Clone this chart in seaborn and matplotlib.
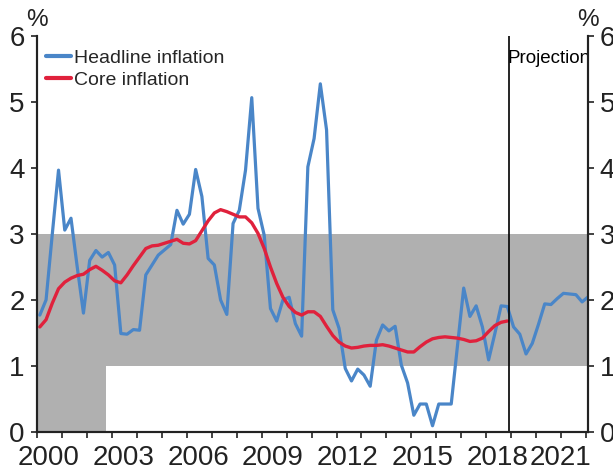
import matplotlib
matplotlib.use("Agg")
import numpy as np
import pandas as pd
import matplotlib.pyplot as plt
import matplotlib.transforms as mtransforms
import seaborn as sns

# ==========================================
# data (annual % change, quarterly from 2000 Q1)
# ==========================================
headline = [1.77, 2.00, 3.00, 3.97,
            3.06, 3.24, 2.50, 1.80,
            2.60, 2.75, 2.65, 2.72,
            2.53, 1.49, 1.48, 1.55,
            1.54, 2.38, 2.53, 2.68,
            2.76, 2.84, 3.36, 3.15,
            3.30, 3.98, 3.57, 2.63,
            2.53, 2.00, 1.78, 3.16,
            3.36, 3.97, 5.07, 3.39,
            2.98, 1.87, 1.68, 2.00,
            2.04, 1.64, 1.45, 4.02,
            4.45, 5.28, 4.58, 1.85,
            1.57, 0.96, 0.77, 0.95,
            0.86, 0.69, 1.39, 1.62,
            1.53, 1.60, 1.01, 0.74,
            0.25, 0.42, 0.42, 0.09,
            0.42, 0.42, 0.42, 1.30,
            2.18, 1.75, 1.91, 1.59,
            1.09, 1.49, 1.91, 1.90,
            1.59, 1.48, 1.18, 1.34,
            1.63, 1.94, 1.93, 2.02,
            2.10, 2.09, 2.08, 1.97,
            2.05]

core = [1.59, 1.70, 1.95, 2.17,
        2.27, 2.33, 2.37, 2.39,
        2.46, 2.51, 2.45, 2.38,
        2.29, 2.26, 2.38, 2.52,
        2.65, 2.78, 2.82, 2.83,
        2.86, 2.89, 2.92, 2.86,
        2.85, 2.90, 3.05, 3.20,
        3.32, 3.37, 3.34, 3.30,
        3.26, 3.26, 3.17, 3.01,
        2.78, 2.50, 2.25, 2.04,
        1.90, 1.81, 1.77, 1.82,
        1.82, 1.75, 1.60, 1.46,
        1.36, 1.30, 1.27, 1.28,
        1.30, 1.31, 1.31, 1.32,
        1.30, 1.27, 1.24, 1.21,
        1.21, 1.29, 1.36, 1.41,
        1.43, 1.44, 1.43, 1.42,
        1.40, 1.37, 1.38, 1.42,
        1.52, 1.61, 1.66, 1.68]

# target band: 0-3 until Sep 2002, then 1-3
band_x = [2000.0, 2002.75, 2002.75, 2022.1]
band_lo = [0, 0, 1, 1]
band_hi = [3, 3, 3, 3]

projection_start = 2018.92
year_labels = [2000, 2003, 2006, 2009, 2012, 2015, 2018, 2021]

# ==========================================
# frames
# ==========================================
df_h = pd.DataFrame({"date": 2000.1 + 0.25 * np.arange(len(headline)), "value": headline})
df_c = pd.DataFrame({"date": 2000.1 + 0.25 * np.arange(len(core)), "value": core})

sns.set_style("ticks")
plt.rcParams["font.family"] = ["Liberation Sans", "DejaVu Sans"]

BLUE = "#4a86c8"
RED = "#e0213c"
GREY = "#b0b0b0"
INK = "#222222"

fig = plt.figure(figsize=(6.13, 4.70), dpi=100)
ax = fig.add_axes([0.0609, 0.0815, 0.8989, 0.8411])

ax.fill_between(band_x, band_lo, band_hi, color=GREY, lw=0, zorder=0)

sns.lineplot(data=df_h, x="date", y="value", color=BLUE, lw=2.3, ax=ax,
             label="Headline inflation", zorder=3)
sns.lineplot(data=df_c, x="date", y="value", color=RED, lw=2.4, ax=ax,
             label="Core inflation", zorder=4)

ax.axvline(projection_start, color="black", lw=1.2, zorder=5)
trans = mtransforms.blended_transform_factory(ax.transData, ax.transAxes)
ax.text(projection_start - 0.05, 0.945, "Projection", transform=trans,
        ha="left", va="center", fontsize=13.5, color="black")

ax.set_xlim(2000, 2022.1)
ax.set_ylim(0, 6)
ax.set_xlabel("")
ax.set_ylabel("")

# x ticks: yearly marks, labels in the middle of the year
ax.set_xticks(np.arange(2000, 2023))
ax.set_xticklabels([])
label_pos = [y + 0.45 for y in year_labels[:-1]] + [year_labels[-1] - 0.03]
ax.set_xticks(label_pos, minor=True)
ax.set_xticklabels([str(y) for y in year_labels], minor=True)
ax.tick_params(axis="x", which="major", length=4, width=1.2, color=INK, direction="out")
ax.tick_params(axis="x", which="minor", length=0, pad=9.5, labelsize=20, labelcolor=INK)

ax.set_yticks(range(0, 7))
ax.tick_params(axis="y", length=4, width=1.2, color=INK, labelsize=20, labelcolor=INK, pad=5)

ax2 = ax.twinx()
ax2.set_ylim(0, 6)
ax2.set_yticks(range(0, 7))
ax2.tick_params(axis="y", length=4, width=1.2, color=INK, labelsize=20, labelcolor=INK, pad=4)

for a in (ax, ax2):
    a.spines["top"].set_visible(False)
    for s in ("left", "right", "bottom"):
        a.spines[s].set_color(INK)
        a.spines[s].set_linewidth(1.5)

ax.text(0.0, 1.042, "%", transform=ax.transAxes, ha="center", va="center", fontsize=17.5, color=INK)
ax.text(1.0, 1.042, "%", transform=ax.transAxes, ha="center", va="center", fontsize=17.5, color=INK)

leg = ax.legend(loc="upper left", bbox_to_anchor=(0.015, 0.967), frameon=False,
                fontsize=14, handlelength=1.3, handletextpad=0.15, labelspacing=0.2,
                borderpad=0, borderaxespad=0)
for line in leg.get_lines():
    line.set_linewidth(3)

fig.savefig("out.png", dpi=100)
